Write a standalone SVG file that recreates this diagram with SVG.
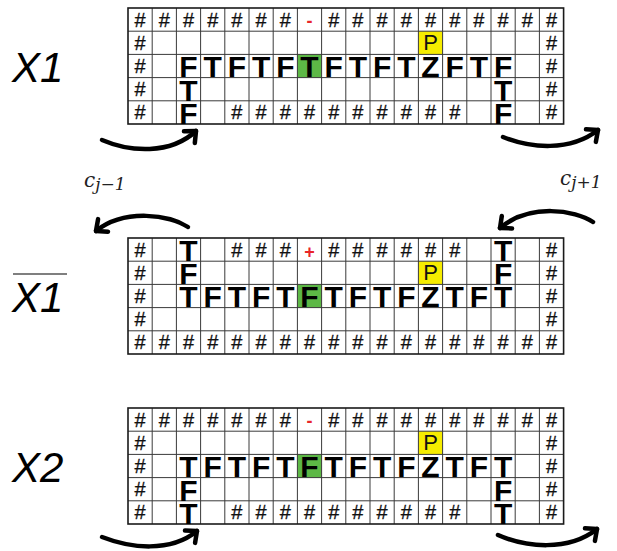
<svg xmlns="http://www.w3.org/2000/svg" width="617" height="551" viewBox="0 0 617 551">
<style>
.grid{fill:none;stroke:#3a3a3a;stroke-width:1}
.outer{fill:none;stroke:#1a1a1a;stroke-width:1.6}
.h{font-family:"Liberation Sans",Arial,sans-serif;font-size:20px;fill:#111;text-anchor:middle;stroke:#111;stroke-width:0.3}
.b{font-family:"Liberation Sans",Arial,sans-serif;font-size:30px;font-weight:bold;fill:#000;text-anchor:middle}
.p{font-family:"Liberation Sans",Arial,sans-serif;font-size:22px;fill:#111;text-anchor:middle}
.r{font-family:"Liberation Sans",Arial,sans-serif;font-size:18px;font-weight:bold;fill:#e8262a;text-anchor:middle}
.lab{font-family:"Liberation Sans",Arial,sans-serif;font-size:42px;font-style:italic;fill:#000}
.c{font-family:"DejaVu Serif","Liberation Serif",serif;font-style:italic;fill:#222}
.arr{fill:none;stroke:#000;stroke-width:4.5;stroke-linecap:round;marker-end:url(#head)}
.yel{fill:#f6ec00}
.grn{fill:#5db846}
</style>
<defs>
<marker id="head" markerUnits="userSpaceOnUse" markerWidth="20" markerHeight="20" viewBox="0 0 20 20" refX="14" refY="10" orient="auto" overflow="visible">
<path d="M5,2 L14,10 L5,18" fill="none" stroke="#000" stroke-width="4.5" stroke-linecap="round" stroke-linejoin="round"/>
</marker>
<path id="lines" d="M152.2,0V116M176.4,0V116M200.6,0V116M224.8,0V116M249,0V116M273.2,0V116M297.4,0V116M321.6,0V116M345.8,0V116M370,0V116M394.2,0V116M418.4,0V116M442.6,0V116M466.8,0V116M491,0V116M515.2,0V116M539.4,0V116M128,23.2H563.6M128,46.4H563.6M128,69.6H563.6M128,92.8H563.6"/>
</defs>

<g id="label-X1"><text class="lab" x="12" y="82">X1</text></g>
<g id="label-X1bar"><line x1="13" y1="274" x2="67" y2="274" stroke="#555" stroke-width="1.5"/><text class="lab" x="12" y="312">X1</text></g>
<g id="label-X2"><text class="lab" x="12" y="482">X2</text></g>

<g id="grid-X1" transform="translate(0,8)">
<rect class="yel" x="418.4" y="23.2" width="24.2" height="23.2"/>
<rect class="grn" x="297.4" y="46.4" width="24.2" height="23.2"/>
<use href="#lines" class="grid"/>
<rect class="outer" x="128" y="0" width="435.6" height="116"/>
<text class="h" x="140.1" y="18.6">#</text><text class="h" x="164.3" y="18.6">#</text><text class="h" x="188.5" y="18.6">#</text><text class="h" x="212.7" y="18.6">#</text><text class="h" x="236.9" y="18.6">#</text><text class="h" x="261.1" y="18.6">#</text><text class="h" x="285.3" y="18.6">#</text>
<text class="r" x="309.5" y="18.6">-</text>
<text class="h" x="333.7" y="18.6">#</text><text class="h" x="357.9" y="18.6">#</text><text class="h" x="382.1" y="18.6">#</text><text class="h" x="406.3" y="18.6">#</text><text class="h" x="430.5" y="18.6">#</text><text class="h" x="454.7" y="18.6">#</text><text class="h" x="478.9" y="18.6">#</text><text class="h" x="503.1" y="18.6">#</text><text class="h" x="527.3" y="18.6">#</text><text class="h" x="551.5" y="18.6">#</text>
<text class="h" x="140.1" y="41.8">#</text><text class="p" x="430.5" y="42">P</text><text class="h" x="551.5" y="41.8">#</text>
<text class="h" x="140.1" y="65">#</text>
<text class="b" x="188.5" y="69.4">F</text><text class="b" x="212.7" y="69.4">T</text><text class="b" x="236.9" y="69.4">F</text><text class="b" x="261.1" y="69.4">T</text><text class="b" x="285.3" y="69.4">F</text><text class="b" x="309.5" y="69.4">T</text><text class="b" x="333.7" y="69.4">F</text><text class="b" x="357.9" y="69.4">T</text><text class="b" x="382.1" y="69.4">F</text><text class="b" x="406.3" y="69.4">T</text><text class="b" x="430.5" y="69.4">Z</text><text class="b" x="454.7" y="69.4">F</text><text class="b" x="478.9" y="69.4">T</text><text class="b" x="503.1" y="69.4">F</text>
<text class="h" x="551.5" y="65">#</text>
<text class="h" x="140.1" y="88.2">#</text><text class="b" x="188.5" y="92.6">T</text><text class="b" x="503.1" y="92.6">T</text><text class="h" x="551.5" y="88.2">#</text>
<text class="h" x="140.1" y="111.4">#</text><text class="b" x="188.5" y="115.8">F</text>
<text class="h" x="236.9" y="111.4">#</text><text class="h" x="261.1" y="111.4">#</text><text class="h" x="285.3" y="111.4">#</text><text class="h" x="309.5" y="111.4">#</text><text class="h" x="333.7" y="111.4">#</text><text class="h" x="357.9" y="111.4">#</text><text class="h" x="382.1" y="111.4">#</text><text class="h" x="406.3" y="111.4">#</text><text class="h" x="430.5" y="111.4">#</text><text class="h" x="454.7" y="111.4">#</text>
<text class="b" x="503.1" y="115.8">F</text><text class="h" x="551.5" y="111.4">#</text>
</g>

<g id="grid-X1bar" transform="translate(0,238)">
<rect class="yel" x="418.4" y="23.2" width="24.2" height="23.2"/>
<rect class="grn" x="297.4" y="46.4" width="24.2" height="23.2"/>
<use href="#lines" class="grid"/>
<rect class="outer" x="128" y="0" width="435.6" height="116"/>
<text class="h" x="140.1" y="18.6">#</text><text class="b" x="188.5" y="23">T</text>
<text class="h" x="236.9" y="18.6">#</text><text class="h" x="261.1" y="18.6">#</text><text class="h" x="285.3" y="18.6">#</text>
<text class="r" x="309.5" y="19.5">+</text>
<text class="h" x="333.7" y="18.6">#</text><text class="h" x="357.9" y="18.6">#</text><text class="h" x="382.1" y="18.6">#</text><text class="h" x="406.3" y="18.6">#</text><text class="h" x="430.5" y="18.6">#</text><text class="h" x="454.7" y="18.6">#</text>
<text class="b" x="503.1" y="23">T</text><text class="h" x="551.5" y="18.6">#</text>
<text class="h" x="140.1" y="41.8">#</text><text class="b" x="188.5" y="46.2">F</text><text class="p" x="430.5" y="42">P</text><text class="b" x="503.1" y="46.2">F</text><text class="h" x="551.5" y="41.8">#</text>
<text class="h" x="140.1" y="65">#</text>
<text class="b" x="188.5" y="69.4">T</text><text class="b" x="212.7" y="69.4">F</text><text class="b" x="236.9" y="69.4">T</text><text class="b" x="261.1" y="69.4">F</text><text class="b" x="285.3" y="69.4">T</text><text class="b" x="309.5" y="69.4">F</text><text class="b" x="333.7" y="69.4">T</text><text class="b" x="357.9" y="69.4">F</text><text class="b" x="382.1" y="69.4">T</text><text class="b" x="406.3" y="69.4">F</text><text class="b" x="430.5" y="69.4">Z</text><text class="b" x="454.7" y="69.4">T</text><text class="b" x="478.9" y="69.4">F</text><text class="b" x="503.1" y="69.4">T</text>
<text class="h" x="551.5" y="65">#</text>
<text class="h" x="140.1" y="88.2">#</text><text class="h" x="551.5" y="88.2">#</text>
<text class="h" x="140.1" y="111.4">#</text><text class="h" x="164.3" y="111.4">#</text><text class="h" x="188.5" y="111.4">#</text><text class="h" x="212.7" y="111.4">#</text><text class="h" x="236.9" y="111.4">#</text><text class="h" x="261.1" y="111.4">#</text><text class="h" x="285.3" y="111.4">#</text><text class="h" x="309.5" y="111.4">#</text><text class="h" x="333.7" y="111.4">#</text><text class="h" x="357.9" y="111.4">#</text><text class="h" x="382.1" y="111.4">#</text><text class="h" x="406.3" y="111.4">#</text><text class="h" x="430.5" y="111.4">#</text><text class="h" x="454.7" y="111.4">#</text><text class="h" x="478.9" y="111.4">#</text><text class="h" x="503.1" y="111.4">#</text><text class="h" x="527.3" y="111.4">#</text><text class="h" x="551.5" y="111.4">#</text>
</g>

<g id="grid-X2" transform="translate(0,408)">
<rect class="yel" x="418.4" y="23.2" width="24.2" height="23.2"/>
<rect class="grn" x="297.4" y="46.4" width="24.2" height="23.2"/>
<use href="#lines" class="grid"/>
<rect class="outer" x="128" y="0" width="435.6" height="116"/>
<text class="h" x="140.1" y="18.6">#</text><text class="h" x="164.3" y="18.6">#</text><text class="h" x="188.5" y="18.6">#</text><text class="h" x="212.7" y="18.6">#</text><text class="h" x="236.9" y="18.6">#</text><text class="h" x="261.1" y="18.6">#</text><text class="h" x="285.3" y="18.6">#</text>
<text class="r" x="309.5" y="18.6">-</text>
<text class="h" x="333.7" y="18.6">#</text><text class="h" x="357.9" y="18.6">#</text><text class="h" x="382.1" y="18.6">#</text><text class="h" x="406.3" y="18.6">#</text><text class="h" x="430.5" y="18.6">#</text><text class="h" x="454.7" y="18.6">#</text><text class="h" x="478.9" y="18.6">#</text><text class="h" x="503.1" y="18.6">#</text><text class="h" x="527.3" y="18.6">#</text><text class="h" x="551.5" y="18.6">#</text>
<text class="h" x="140.1" y="41.8">#</text><text class="p" x="430.5" y="42">P</text><text class="h" x="551.5" y="41.8">#</text>
<text class="h" x="140.1" y="65">#</text>
<text class="b" x="188.5" y="69.4">T</text><text class="b" x="212.7" y="69.4">F</text><text class="b" x="236.9" y="69.4">T</text><text class="b" x="261.1" y="69.4">F</text><text class="b" x="285.3" y="69.4">T</text><text class="b" x="309.5" y="69.4">F</text><text class="b" x="333.7" y="69.4">T</text><text class="b" x="357.9" y="69.4">F</text><text class="b" x="382.1" y="69.4">T</text><text class="b" x="406.3" y="69.4">F</text><text class="b" x="430.5" y="69.4">Z</text><text class="b" x="454.7" y="69.4">T</text><text class="b" x="478.9" y="69.4">F</text><text class="b" x="503.1" y="69.4">T</text>
<text class="h" x="551.5" y="65">#</text>
<text class="h" x="140.1" y="88.2">#</text><text class="b" x="188.5" y="92.6">F</text><text class="b" x="503.1" y="92.6">F</text><text class="h" x="551.5" y="88.2">#</text>
<text class="h" x="140.1" y="111.4">#</text><text class="b" x="188.5" y="115.8">T</text>
<text class="h" x="236.9" y="111.4">#</text><text class="h" x="261.1" y="111.4">#</text><text class="h" x="285.3" y="111.4">#</text><text class="h" x="309.5" y="111.4">#</text><text class="h" x="333.7" y="111.4">#</text><text class="h" x="357.9" y="111.4">#</text><text class="h" x="382.1" y="111.4">#</text><text class="h" x="406.3" y="111.4">#</text><text class="h" x="430.5" y="111.4">#</text><text class="h" x="454.7" y="111.4">#</text>
<text class="b" x="503.1" y="115.8">T</text><text class="h" x="551.5" y="111.4">#</text>
</g>

<g id="connectors">
<path class="arr" d="M102,140 C130,152 170,155 196,131"/>
<path class="arr" d="M503,137 C530,148 570,152 598,130"/>
<path class="arr" d="M593,222 C575,210 530,203 500,228"/>
<path class="arr" d="M188,227 C170,215 125,208 96,231"/>
<path class="arr" d="M102,537 C130,548 170,553 197,531"/>
<path class="arr" d="M498,535 C525,547 568,552 597,529"/>
</g>

<g id="label-cj-1"><text class="c" x="84" y="187" font-size="20">c<tspan font-size="17" dy="3">j−1</tspan></text></g>
<g id="label-cj+1"><text class="c" x="560" y="185" font-size="20">c<tspan font-size="17" dy="3">j+1</tspan></text></g>
</svg>
